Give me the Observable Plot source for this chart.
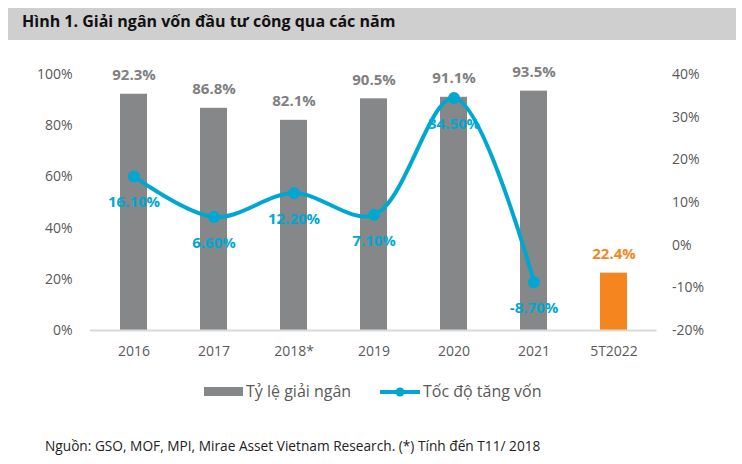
<!DOCTYPE html>
<html><head><meta charset="utf-8">
<script src="https://cdn.jsdelivr.net/npm/d3@7"></script>
<script src="https://cdn.jsdelivr.net/npm/@observablehq/plot@0.6"></script>
<style>
body{margin:0;background:#fff;font-family:"Open Sans",sans-serif;}
#wrap{position:relative;width:742px;height:464px;overflow:hidden;background:#fff;}
#title{position:absolute;left:8px;top:8px;width:728px;height:32px;background:#d0cfcf;}
#title span{position:absolute;left:14px;top:2px;font-weight:700;font-size:16px;color:#111;white-space:nowrap;}
#chart{position:absolute;left:0;top:50px;}
.lg{position:absolute;top:381px;font-size:16px;color:#595959;line-height:20px;white-space:nowrap;}
#caption{position:absolute;left:45px;top:436px;font-size:13.7px;color:#222;white-space:nowrap;}
</style>
</head><body>
<div id="wrap">
  <div id="title"><span>Hình 1. Giải ngân vốn đầu tư công qua các năm</span></div>
  <div id="chart"></div>
  <div class="lg" style="left:204px;"><span style="display:inline-block;width:39px;height:9px;background:#858789;vertical-align:middle;margin-right:3px;position:relative;top:-1px;"></span>Tỷ lệ giải ngân</div>
  <div class="lg" style="left:380px;"><svg width="40" height="12" style="vertical-align:middle;margin-right:3px;position:relative;top:-1px;"><line x1="0" y1="6" x2="40" y2="6" stroke="#00a8d1" stroke-width="4"/><circle cx="20" cy="6" r="4.5" fill="#00a8d1"/></svg>Tốc độ tăng vốn</div>
  <div id="caption">Nguồn: GSO, MOF, MPI, Mirae Asset Vietnam Research. (*) Tính đến T11/ 2018</div>
</div>
<script>
const years = ["2016", "2017", "2018*", "2019", "2020", "2021", "5T2022"];
const disbursement = [92.3, 86.8, 82.1, 90.5, 91.1, 93.5, 22.4];
const growth = [16.1, 6.6, 12.2, 7.1, 34.5, -8.7, null];
const leftTicks = [0, 20, 40, 60, 80, 100];
const rightTicks = [-20, -10, 0, 10, 20, 30, 40];
const rightMin = -20, rightMax = 40;

const toLeft = v => (v - rightMin) / (rightMax - rightMin) * 100;
const fromLeft = p => p / 100 * (rightMax - rightMin) + rightMin;

const bars = years.map((y, i) => ({year: y, value: disbursement[i], color: i === years.length - 1 ? "#f5861f" : "#858789", label: i === years.length - 1 ? "#f5861f" : "#808080"}));
const pts = years.map((y, i) => ({year: y, g: growth[i]})).filter(d => d.g != null);
const cyan = "#00a8d1";

const chart = Plot.plot({
  width: 742, height: 320,
  marginTop: 24, marginBottom: 40, marginLeft: 90, marginRight: 85.5,
  style: {fontFamily: "'Open Sans', sans-serif", fontSize: "14px", color: "#595959", background: "transparent"},
  x: {domain: years, paddingInner: 0.66, paddingOuter: 0.33, align: 0.5},
  y: {domain: [0, 100]},
  color: {type: "identity"},
  marks: [
    Plot.axisX({tickSize: 0, tickPadding: 16, fontSize: 14, label: null}),
    Plot.axisY(leftTicks, {tickSize: 0, tickPadding: 18, fontSize: 14, tickFormat: d => d + "%", label: null}),
    Plot.axisY(rightTicks.map(toLeft), {anchor: "right", tickSize: 0, tickPadding: 15, fontSize: 14, tickFormat: d => Math.round(fromLeft(d)) + "%", label: null}),
    Plot.barY(bars, {x: "year", y: "value", fill: "color"}),
    Plot.ruleY([0], {stroke: "#d9d9d9", strokeWidth: 2}),
    Plot.text(bars, {x: "year", y: "value", text: d => d.value.toFixed(1) + "%", dy: -19, fill: "label", fontWeight: "bold", fontSize: 15}),
    Plot.line(pts, {x: "year", y: d => toLeft(d.g), stroke: cyan, strokeWidth: 4, curve: "catmull-rom"}),
    Plot.dot(pts, {x: "year", y: d => toLeft(d.g), r: 6, fill: cyan, stroke: "none"}),
    Plot.text(pts, {x: "year", y: d => toLeft(d.g), text: d => d.g.toFixed(2) + "%", dy: 26, fill: cyan, fontWeight: "bold", fontSize: 15})
  ]
});
document.getElementById("chart").appendChild(chart);
</script>
</body></html>
